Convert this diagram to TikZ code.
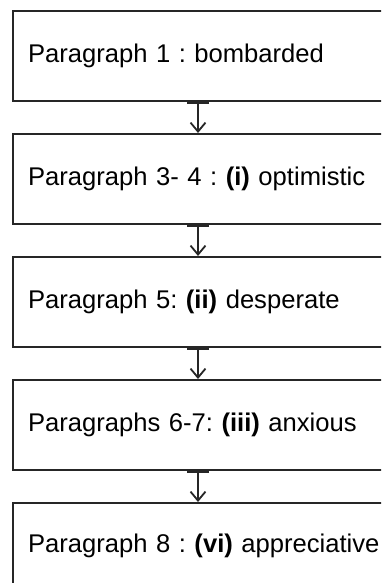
\documentclass[tikz,border=0pt]{standalone}
\usepackage{fontspec}
\setmainfont{Liberation Sans}
\usepackage{tikz}
\usetikzlibrary{arrows.meta, positioning}
\frenchspacing

\begin{document}
\begin{tikzpicture}[x=1pt, y=-1pt,
  parabox/.style={draw=black!85, line width=2pt, rectangle, anchor=north west,
    minimum width=390pt, minimum height=90pt, text width=360pt, inner xsep=15pt,
    align=left, font=\fontsize{25.6}{30}\selectfont},
  flowarrow/.style={draw=black!85, line width=1.8pt,
    {Bar[width=22pt, line width=2pt]}-{Straight Barb[length=9pt, width=15pt, line width=1.8pt]}}]

% Define lengths
\def\boxgap{31pt}
\def\arrowshift{-10pt}

% Page size and clip of the open right side
\useasboundingbox (0,0) rectangle (381,583);
\clip (0,0) rectangle (381,583);

% Draw the boxes
\node[parabox] (p1) at (12,10) {Paragraph 1 : bombarded};
\node[parabox, below=\boxgap of p1.south west, anchor=north west] (p34) {Paragraph 3- 4 : \textbf{(i)} optimistic};
\node[parabox, below=\boxgap of p34.south west, anchor=north west] (p5) {Paragraph 5: \textbf{(ii)} desperate};
\node[parabox, below=\boxgap of p5.south west, anchor=north west] (p67) {Paragraphs 6-7: \textbf{(iii)} anxious};
\node[parabox, below=\boxgap of p67.south west, anchor=north west, minimum height=85pt] (p8) {Paragraph 8 : \textbf{(vi)} appreciative};

% Draw the arrows
\draw[flowarrow] ([xshift=\arrowshift]p1.south) -- ([xshift=\arrowshift]p34.north);
\draw[flowarrow] ([xshift=\arrowshift]p34.south) -- ([xshift=\arrowshift]p5.north);
\draw[flowarrow] ([xshift=\arrowshift]p5.south) -- ([xshift=\arrowshift]p67.north);
\draw[flowarrow] ([xshift=\arrowshift]p67.south) -- ([xshift=\arrowshift]p8.north);

\end{tikzpicture}
\end{document}
